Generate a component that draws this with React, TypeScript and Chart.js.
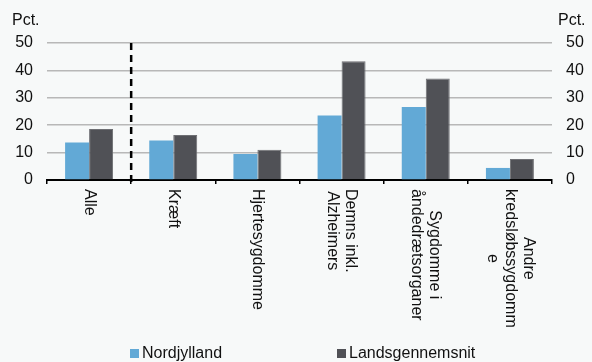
import React, { useEffect, useRef } from "react";
import { Chart, registerables } from "chart.js";

Chart.register(...registerables);

const categories: string[][] = [
  ["Alle"],
  ["Kræft"],
  ["Hjertesygdomme"],
  ["Demns inkl.", "Alzheimers"],
  ["Sygdomme i", "åndedrætsorganer"],
  ["Andre", "kredsløbssygdomm", "e"],
];
const nordjylland = [13.7, 14.4, 9.5, 23.5, 26.6, 4.4];
const landsgennemsnit = [18.6, 16.4, 11.0, 43.3, 37.0, 7.7];
const seriesNames = ["Nordjylland", "Landsgennemsnit"];
const yMin = 0;
const yMax = 50;
const yStep = 10;
const unitLabel = "Pct.";

const BLUE = "#62a9d6";
const DARK = "#505156";
const FONT = "'Liberation Sans', Arial, sans-serif";

const overlayPlugin = {
  id: "overlay",
  afterDraw(chart: any) {
    const ctx = chart.ctx as CanvasRenderingContext2D;
    const x = chart.scales.x;
    const area = chart.chartArea;
    ctx.save();
    // dashed separator between first and second category
    const sepX = (x.getPixelForValue(0) + x.getPixelForValue(1)) / 2;
    ctx.strokeStyle = "#000";
    ctx.lineWidth = 2.5;
    ctx.setLineDash([7, 5]);
    ctx.beginPath();
    ctx.moveTo(sepX, area.top);
    ctx.lineTo(sepX, area.bottom + 4);
    ctx.stroke();
    ctx.setLineDash([]);

    // rotated category labels (clockwise)
    ctx.fillStyle = "#111";
    ctx.font = `16px ${FONT}`;
    const lh = 18;
    categories.forEach((lines, i) => {
      const cx = x.getPixelForValue(i);
      const maxW = Math.max(...lines.map((l) => ctx.measureText(l).width));
      ctx.save();
      ctx.translate(cx, area.bottom + 9);
      ctx.rotate(Math.PI / 2);
      ctx.textAlign = "center";
      ctx.textBaseline = "middle";
      lines.forEach((l, k) => {
        const fy = (k - (lines.length - 1) / 2) * lh;
        ctx.fillText(l, maxW / 2, fy);
      });
      ctx.restore();
    });

    // unit labels
    ctx.textAlign = "left";
    ctx.textBaseline = "alphabetic";
    ctx.fillText(unitLabel, 12, 24.5);
    ctx.fillText(unitLabel, 558, 24.5);

    // legend
    const colors = [BLUE, DARK];
    const lx = [130, 337];
    seriesNames.forEach((name, i) => {
      ctx.fillStyle = colors[i];
      ctx.fillRect(lx[i], 349, 9, 9);
      ctx.fillStyle = "#111";
      ctx.fillText(name, lx[i] + 12, 358);
    });
    ctx.restore();
  },
};

export default function App() {
  const ref = useRef<HTMLCanvasElement | null>(null);
  useEffect(() => {
    if (!ref.current) return;
    const chart = new Chart(ref.current, {
      type: "bar",
      data: {
        labels: categories.map((c) => c.join(" ")),
        datasets: [
          {
            label: seriesNames[0],
            data: nordjylland,
            backgroundColor: BLUE,
            borderWidth: 0,
            categoryPercentage: 0.57,
            barPercentage: 1,
          },
          {
            label: seriesNames[1],
            data: landsgennemsnit,
            backgroundColor: DARK,
            borderColor: "#6e6f73",
            borderWidth: 1,
            categoryPercentage: 0.57,
            barPercentage: 1,
          },
        ],
      },
      options: {
        animation: false,
        responsive: true,
        maintainAspectRatio: false,
        layout: { padding: { top: 43, left: 0, right: 0, bottom: 0 } },
        plugins: { legend: { display: false }, tooltip: { enabled: false } },
        scales: {
          x: {
            ticks: { display: false },
            grid: {
              display: true,
              drawOnChartArea: false,
              drawTicks: true,
              tickLength: 4,
              color: "#000",
              lineWidth: 1.5,
            },
            border: { display: true, color: "#000", width: 2 },
            afterFit: (s: any) => {
              s.height = 182;
            },
          },
          y: {
            position: "left",
            min: yMin,
            max: yMax,
            ticks: {
              stepSize: yStep,
              padding: 14,
              color: "#111",
              font: { size: 16, family: FONT },
            },
            grid: { color: "#b8b8b8", lineWidth: 1.5, drawTicks: false },
            border: { display: false },
            afterFit: (s: any) => {
              s.width = 47;
            },
          },
          y2: {
            position: "right",
            min: yMin,
            max: yMax,
            ticks: {
              stepSize: yStep,
              padding: 14,
              color: "#111",
              font: { size: 16, family: FONT },
            },
            grid: { display: false, drawTicks: false },
            border: { display: false },
            afterFit: (s: any) => {
              s.width = 40;
            },
          },
        },
      },
      plugins: [overlayPlugin],
    });
    return () => chart.destroy();
  }, []);
  return (
    <div
      style={{
        position: "fixed",
        left: 0,
        top: 0,
        width: 592,
        height: 362,
        background: "#f7f9f9",
      }}
    >
      <canvas ref={ref} />
    </div>
  );
}
